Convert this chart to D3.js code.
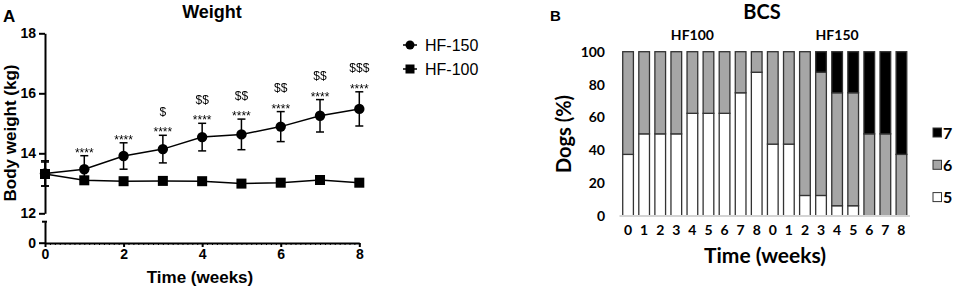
<!DOCTYPE html>
<html>
<head>
<meta charset="utf-8">
<script src="https://cdn.jsdelivr.net/npm/d3@7"></script>
<style>
  body { margin: 0; background: #fff; }
  svg { display: block; }
  svg text { fill: #000; }
  .axA text { font-family: "Liberation Sans", Arial, sans-serif; font-weight: bold; font-size: 14px; }
  .axA path, .axA line { stroke: #000; stroke-width: 2px; }
  .axB text { font-family: Lato, "Open Sans", sans-serif; font-weight: bold; font-size: 14px; }
  .sig { filter: grayscale(100%); }
</style>
</head>
<body>
<div id="chart"></div>
<script>
// ---- Panel A: body weight ----
var weeks = [0, 1, 2, 3, 4, 5, 6, 7, 8];
var hf150Mean = [13.33, 13.47, 13.91, 14.14, 14.54, 14.63, 14.89, 15.25, 15.48];
var hf150Err = [0.42, 0.45, 0.44, 0.46, 0.46, 0.51, 0.50, 0.54, 0.57];
var hf100Mean = [13.31, 13.10, 13.07, 13.08, 13.07, 12.99, 13.02, 13.11, 13.02];
var hf100Err = [0.40, 0.08, 0.08, 0.06, 0.06, 0.06, 0.06, 0.14, 0.06];
var starLabels = ["", "****", "****", "****", "****", "****", "****", "****", "****"];
var dollarLabels = ["", "", "", "$", "$$", "$$", "$$", "$$", "$$$"];
var weightTicks = [12, 14, 16, 18];
var weekTicks = [0, 2, 4, 6, 8];

// ---- Panel B: body condition score ----
var bcsLabels = ["0", "1", "2", "3", "4", "5", "6", "7", "8", "0", "1", "2", "3", "4", "5", "6", "7", "8"];
var bcs5 = [37.5, 50, 50, 50, 62.5, 62.5, 62.5, 75, 87.5, 43.75, 43.75, 12.5, 12.5, 6.25, 6.25, 0, 0, 0];
var bcs6 = [62.5, 50, 50, 50, 37.5, 37.5, 37.5, 25, 12.5, 56.25, 56.25, 87.5, 75, 68.75, 68.75, 50, 50, 37.5];
var bcs7 = [0, 0, 0, 0, 0, 0, 0, 0, 0, 0, 0, 0, 12.5, 25, 25, 50, 50, 62.5];
var bcsKeys = ["7", "6", "5"];
var bcsColors = { "5": "#ffffff", "6": "#a6a6a6", "7": "#000000" };
var pctTicks = [0, 20, 40, 60, 80, 100];

var svg = d3.select("#chart")
    .append("svg")
    .attr("width", 960)
    .attr("height", 294);

var fontA = '"Liberation Sans", Arial, sans-serif';
var fontB = 'Lato, "Open Sans", sans-serif';

// Scales for panel A (broken y axis)
var xA = d3.scaleLinear().domain([0, 8]).range([45, 359.3]);
var yUp = d3.scaleLinear().domain([12, 18]).range([213.3, 33.3]);
var yLow = d3.scaleLinear().domain([0, 0.7]).range([242.7, 221.7]);

// Axes
svg.append("g")
    .attr("class", "axA")
    .attr("transform", "translate(45,0)")
    .call(d3.axisLeft(yUp).tickValues(weightTicks).tickFormat(d3.format("d"))
        .tickSize(6).tickSizeOuter(0).tickPadding(3));

var lowAx = svg.append("g")
    .attr("class", "axA")
    .attr("transform", "translate(45,0)")
    .call(d3.axisLeft(yLow).tickValues([0]).tickFormat(d3.format("d"))
        .tickSize(6).tickSizeOuter(0).tickPadding(3));
// little cap at the top of the broken segment
lowAx.append("line")
    .attr("x1", -3).attr("x2", 2)
    .attr("y1", yLow.range()[1]).attr("y2", yLow.range()[1]);

// minor ticks under the x axis (dotted look)
svg.append("g")
    .attr("transform", "translate(0,243)")
    .call(d3.axisBottom(xA).tickValues(d3.range(0, 8.001, 0.125)).tickSize(2).tickFormat(""))
    .call(g => g.select(".domain").remove())
    .selectAll("line").attr("stroke", "#000").attr("stroke-width", 1);

svg.append("g")
    .attr("class", "axA")
    .attr("transform", "translate(0,243)")
    .call(d3.axisBottom(xA).tickValues(weekTicks).tickSize(4).tickSizeOuter(0).tickPadding(2));

// Error bars
function drawErrors(means, errs) {
    var g = svg.append("g").attr("stroke", "#000").attr("stroke-width", 1.5);
    weeks.forEach(function(w, i) {
        var x = xA(w), y1 = yUp(means[i] - errs[i]), y2 = yUp(means[i] + errs[i]);
        g.append("line").attr("x1", x).attr("x2", x).attr("y1", y1).attr("y2", y2);
        g.append("line").attr("x1", x - 4).attr("x2", x + 4).attr("y1", y1).attr("y2", y1);
        g.append("line").attr("x1", x - 4).attr("x2", x + 4).attr("y1", y2).attr("y2", y2);
    });
}
drawErrors(hf100Mean, hf100Err);
drawErrors(hf150Mean, hf150Err);

// Lines
var lineGen = d3.line().x((d, i) => xA(weeks[i])).y(d => yUp(d));
svg.append("path").datum(hf100Mean).attr("d", lineGen)
    .attr("fill", "none").attr("stroke", "#000").attr("stroke-width", 1.5);
svg.append("path").datum(hf150Mean).attr("d", lineGen)
    .attr("fill", "none").attr("stroke", "#000").attr("stroke-width", 1.5);

// Markers
svg.selectAll(".sq").data(hf100Mean).enter().append("rect")
    .attr("x", (d, i) => xA(weeks[i]) - 5)
    .attr("y", d => yUp(d) - 5)
    .attr("width", 10).attr("height", 10)
    .attr("fill", "#000");

svg.selectAll(".dot").data(hf150Mean).enter().append("circle")
    .attr("cx", (d, i) => xA(weeks[i]))
    .attr("cy", d => yUp(d))
    .attr("r", 5.2)
    .attr("fill", "#000");

// Significance marks
var sigG = svg.append("g").attr("class", "sig");

sigG.selectAll(".star").data(starLabels).enter().append("text")
    .attr("x", (d, i) => xA(weeks[i]))
    .attr("y", (d, i) => yUp(hf150Mean[i] + hf150Err[i]) + 1)
    .attr("text-anchor", "middle")
    .style("font-family", fontA).style("font-size", "12px")
    .text(d => d);

sigG.selectAll(".dollar").data(dollarLabels).enter().append("text")
    .attr("x", (d, i) => xA(weeks[i]))
    .attr("y", (d, i) => yUp(hf150Mean[i] + hf150Err[i]) - 19.5)
    .attr("text-anchor", "middle")
    .style("font-family", fontA).style("font-size", "12px")
    .text(d => d);

// Legend A
var legA = svg.append("g").attr("transform", "translate(410,45)");
legA.append("line").attr("x1", -7).attr("x2", 7).attr("y1", 0).attr("y2", 0).attr("stroke", "#000").attr("stroke-width", 1.5);
legA.append("circle").attr("r", 4.5).attr("fill", "#000");
legA.append("text").attr("x", 15).attr("y", 5.5).style("font-family", fontA).style("font-size", "16px").text("HF-150");
legA.append("line").attr("x1", -7).attr("x2", 7).attr("y1", 24).attr("y2", 24).attr("stroke", "#000").attr("stroke-width", 1.5);
legA.append("rect").attr("x", -4.5).attr("y", 19.5).attr("width", 9).attr("height", 9).attr("fill", "#000");
legA.append("text").attr("x", 15).attr("y", 29.5).style("font-family", fontA).style("font-size", "16px").text("HF-100");

// Titles / labels A
svg.append("text").attr("x", 3).attr("y", 21.5)
    .style("font-family", fontA).style("font-weight", "bold").style("font-size", "17px").text("A");
svg.append("text").attr("x", 212).attr("y", 18).attr("text-anchor", "middle")
    .style("font-family", fontA).style("font-weight", "bold").style("font-size", "18px").text("Weight");
svg.append("text").attr("x", 200).attr("y", 283).attr("text-anchor", "middle")
    .style("font-family", fontA).style("font-weight", "bold").style("font-size", "17px").text("Time (weeks)");
svg.append("text").attr("transform", "translate(16,133) rotate(-90)").attr("text-anchor", "middle")
    .style("font-family", fontA).style("font-weight", "bold").style("font-size", "17px").text("Body weight (kg)");

// ---- Panel B ----
var xB = d3.scaleBand().domain(d3.range(bcsLabels.length)).range([619.5, 910])
    .paddingInner(0.335).paddingOuter(0.2);
var yB = d3.scaleLinear().domain([0, 100]).range([216, 51.7]);

svg.append("g")
    .attr("class", "axB")
    .attr("transform", "translate(620,0)")
    .call(d3.axisLeft(yB).tickValues(pctTicks).tickSize(0).tickPadding(15))
    .call(g => g.select(".domain").remove());

svg.append("g")
    .attr("class", "axB")
    .attr("transform", "translate(0,216)")
    .call(d3.axisBottom(xB).tickSize(0).tickPadding(9).tickFormat(i => bcsLabels[i]))
    .call(g => g.select(".domain").remove());

// stack data
var bcsRows = bcsLabels.map(function(l, i) {
    return { idx: i, "5": bcs5[i], "6": bcs6[i], "7": bcs7[i] };
});
var stack = d3.stack().keys(["5", "6", "7"])(bcsRows);

svg.append("g").selectAll("g").data(stack).enter().append("g")
    .attr("fill", d => bcsColors[d.key])
    .selectAll("rect").data(d => d.filter(s => s[1] > s[0])).enter().append("rect")
    .attr("x", d => xB(d.data.idx))
    .attr("y", d => yB(d[1]))
    .attr("width", xB.bandwidth())
    .attr("height", d => yB(d[0]) - yB(d[1]))
    .attr("stroke", "#333")
    .attr("stroke-width", 1.3);

svg.append("line")
    .attr("x1", xB.range()[0]).attr("x2", xB.range()[1])
    .attr("y1", yB(0)).attr("y2", yB(0))
    .attr("stroke", "#d4d4d4").attr("stroke-width", 2);

// Legend B
var legB = svg.append("g").attr("transform", "translate(933,128)");
bcsKeys.forEach(function(k, i) {
    legB.append("rect").attr("x", 0).attr("y", i * 32.3).attr("width", 8.5).attr("height", 9)
        .attr("fill", bcsColors[k]).attr("stroke", "#333").attr("stroke-width", 1);
    legB.append("text").attr("x", 10).attr("y", i * 32.3 + 10.5)
        .style("font-family", fontB).style("font-weight", "bold").style("font-size", "16px").text(k);
});

// Titles / labels B
svg.append("text").attr("x", 550).attr("y", 21)
    .style("font-family", fontA).style("font-weight", "bold").style("font-size", "15px").text("B");
svg.append("text").attr("x", 762).attr("y", 19).attr("text-anchor", "middle")
    .style("font-family", fontB).style("font-weight", "bold").style("font-size", "20px").text("BCS");
svg.append("text").attr("x", (xB(0) + xB(8) + xB.bandwidth()) / 2).attr("y", 40).attr("text-anchor", "middle")
    .style("font-family", fontB).style("font-weight", "bold").style("font-size", "14px").text("HF100");
svg.append("text").attr("x", (xB(9) + xB(17) + xB.bandwidth()) / 2).attr("y", 40).attr("text-anchor", "middle")
    .style("font-family", fontB).style("font-weight", "bold").style("font-size", "14px").text("HF150");
svg.append("text").attr("x", 765).attr("y", 263).attr("text-anchor", "middle")
    .style("font-family", fontB).style("font-weight", "bold").style("font-size", "21px").text("Time (weeks)");
svg.append("text").attr("transform", "translate(571,134) rotate(-90)").attr("text-anchor", "middle")
    .style("font-family", fontB).style("font-weight", "bold").style("font-size", "20px").text("Dogs (%)");
</script>
</body>
</html>
